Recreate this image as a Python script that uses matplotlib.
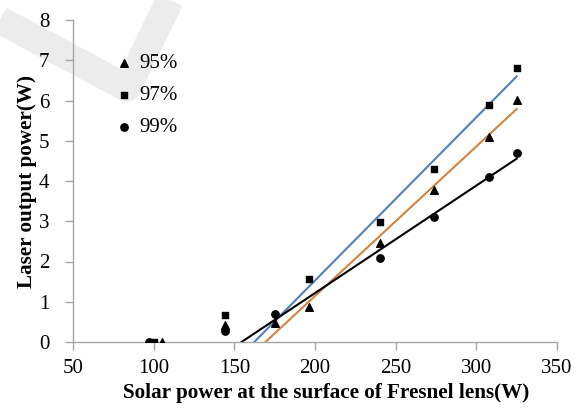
import numpy as np
import matplotlib
matplotlib.use("Agg")
import matplotlib.pyplot as plt
from matplotlib.lines import Line2D

plt.rcParams['font.family'] = ['Liberation Serif', 'DejaVu Serif']

# Data
x95 = [105, 144, 175, 196, 240, 274, 308, 325]
y95 = [0.0, 0.42, 0.46, 0.87, 2.46, 3.78, 5.09, 6.01]
x97 = [100, 144, 196, 240, 274, 308, 325]
y97 = [0.0, 0.67, 1.57, 2.98, 4.30, 5.89, 6.81]
x99 = [97, 144, 175, 240, 274, 308, 325]
y99 = [0.01, 0.27, 0.69, 2.09, 3.10, 4.10, 4.70]

# points used for the linear trend lines (lasing region)
fit95_min = 175
fit97_min = 196
fit99_min = 175
fit_end = 325

series_labels = ['95%', '97%', '99%']
xticks = [50, 100, 150, 200, 250, 300, 350]
yticks = [0, 1, 2, 3, 4, 5, 6, 7, 8]

W, H = 579, 408
fig = plt.figure(figsize=(W / 100, H / 100), dpi=100)

# faint watermark swoosh
wm = Line2D(np.array([0, 127, 170]) / W, 1 - np.array([20, 88, 0]) / H,
            transform=fig.transFigure, color='#ececec', lw=20,
            solid_joinstyle='round', solid_capstyle='butt', zorder=0)
fig.add_artist(wm)

ax = fig.add_axes([73 / W, 1 - 342 / H, (557 - 73) / W, (342 - 20) / H])
ax.patch.set_alpha(0)

def trend(xs, ys, xmin, color):
    xs = np.asarray(xs, float)
    ys = np.asarray(ys, float)
    m = xs >= xmin
    k, b = np.polyfit(xs[m], ys[m], 1)
    x0 = -b / k
    xx = np.array([x0, fit_end])
    ax.plot(xx, k * xx + b, color=color, lw=1.5, zorder=2)

trend(x97, y97, fit97_min, '#4f81bd')
trend(x95, y95, fit95_min, '#d4843f')
trend(x99, y99, fit99_min, '#000000')

ax.scatter(x95, y95, marker='^', s=30, color='black', zorder=3, label=series_labels[0])
ax.scatter(x97, y97, marker='s', s=24, color='black', zorder=3, label=series_labels[1])
ax.scatter(x99, y99, marker='o', s=28, color='black', zorder=3, label=series_labels[2])

ax.set_xlim(50, 350)
ax.set_ylim(0, 8)
ax.set_xticks(xticks)
ax.set_yticks(yticks)
for s in ['top', 'right']:
    ax.spines[s].set_visible(False)
for s in ['left', 'bottom']:
    ax.spines[s].set_color('#a6a6a6')
    ax.spines[s].set_linewidth(1.0)
ax.tick_params(axis='both', colors='#a6a6a6', labelcolor='black', length=6,
               width=1.0, labelsize=15, direction='out')
ax.tick_params(axis='x', pad=6)
ax.tick_params(axis='y', pad=11)

ax.set_xlabel('Solar power at the surface of Fresnel lens(W)', fontsize=15.2,
              fontweight='bold')
ax.set_ylabel('Laser output power(W)', fontsize=15.2, fontweight='bold')
ax.xaxis.set_label_coords((326.5 - 73) / 484, -(383 - 342) / 322)
ax.yaxis.set_label_coords(-(73 - 37) / 484, 0.5)

leg = ax.legend(loc='upper left', bbox_to_anchor=(0.062, 0.922), frameon=False,
                fontsize=15, handletextpad=0.15, labelspacing=0.6,
                borderaxespad=0, handlelength=1.2)

fig.savefig('out.png', dpi=100)
